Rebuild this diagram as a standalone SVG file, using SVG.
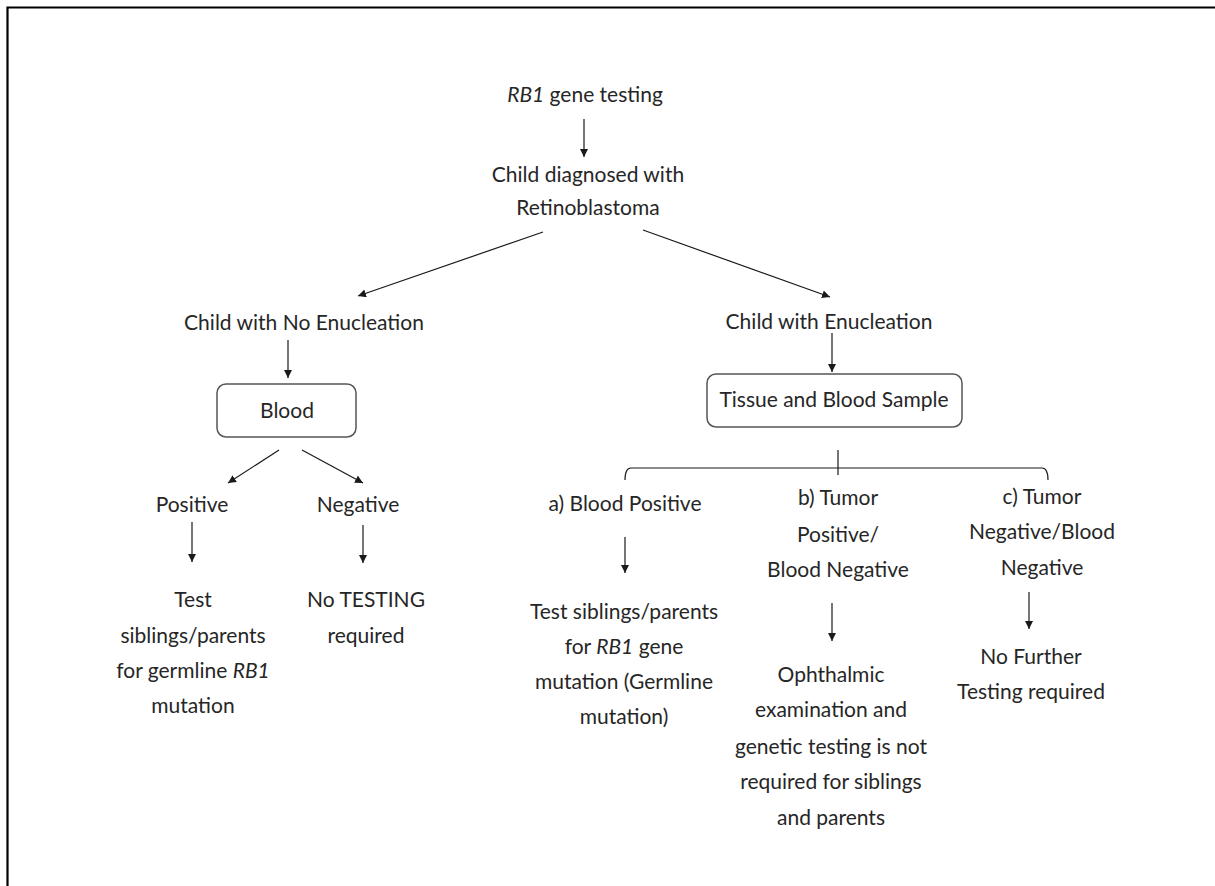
<svg xmlns="http://www.w3.org/2000/svg" width="1215" height="886" viewBox="0 0 1215 886">
<style>
  text { font-family: Lato, "Open Sans", "Liberation Sans", sans-serif; font-size: 21px; fill: #262626; text-anchor: middle; }
  .it { font-style: italic; }
  .box { fill: #ffffff; stroke: #555555; stroke-width: 1.5; }
  .con { stroke: #1a1a1a; stroke-width: 1.2; fill: none; }
  .arr { marker-end: url(#ah); }
  .frame { stroke: #000000; stroke-width: 2.2; fill: none; }
</style>
<defs>
  <marker id="ah" markerUnits="userSpaceOnUse" markerWidth="8" markerHeight="8" refX="8" refY="4" orient="auto">
    <path d="M0,0 L8,4 L0,8 z" fill="#1a1a1a"/>
  </marker>
</defs>
<rect width="1215" height="886" fill="#ffffff"/>
<path class="frame" d="M7.5,886 L7.5,7.5 L1215,7.5"/>

<g id="n-rb1"><text x="585" y="102"><tspan class="it">RB1</tspan> gene testing</text></g>
<g id="n-diag"><text x="588" y="182">Child diagnosed with</text><text x="588" y="215">Retinoblastoma</text></g>
<g id="n-noenuc"><text x="304" y="330">Child with No Enucleation</text></g>
<g id="n-enuc"><text x="829" y="329">Child with Enucleation</text></g>
<g id="n-blood"><rect class="box" x="217" y="384" width="139" height="53" rx="9"/><text x="287" y="418">Blood</text></g>
<g id="n-tissue"><rect class="box" x="707" y="374" width="255" height="53" rx="9"/><text x="834" y="407">Tissue and Blood Sample</text></g>
<g id="n-pos"><text x="192" y="512">Positive</text></g>
<g id="n-neg"><text x="358" y="512">Negative</text></g>
<g id="n-pos-res">
  <text x="193" y="607">Test</text>
  <text x="193" y="643">siblings/parents</text>
  <text x="193" y="678">for germline <tspan class="it">RB1</tspan></text>
  <text x="193" y="713">mutation</text>
</g>
<g id="n-neg-res"><text x="366" y="607">No TESTING</text><text x="366" y="643">required</text></g>
<g id="n-a"><text x="625" y="511">a) Blood Positive</text></g>
<g id="n-b"><text x="838" y="505">b) Tumor</text><text x="838" y="542">Positive/</text><text x="838" y="577">Blood Negative</text></g>
<g id="n-c"><text x="1042" y="504">c) Tumor</text><text x="1042" y="539">Negative/Blood</text><text x="1042" y="575">Negative</text></g>
<g id="n-a-res">
  <text x="624" y="619">Test siblings/parents</text>
  <text x="624" y="654">for <tspan class="it">RB1</tspan> gene</text>
  <text x="624" y="689">mutation (Germline</text>
  <text x="624" y="724">mutation)</text>
</g>
<g id="n-b-res">
  <text x="831" y="682">Ophthalmic</text>
  <text x="831" y="717">examination and</text>
  <text x="831" y="754">genetic testing is not</text>
  <text x="831" y="789">required for siblings</text>
  <text x="831" y="825">and parents</text>
</g>
<g id="n-c-res"><text x="1031" y="664">No Further</text><text x="1031" y="699">Testing required</text></g>

<g id="connectors">
  <line class="con arr" x1="584" y1="119" x2="584" y2="157"/>
  <line class="con arr" x1="543" y1="232" x2="358" y2="296"/>
  <line class="con arr" x1="643" y1="230" x2="830" y2="297"/>
  <line class="con arr" x1="288" y1="340" x2="288" y2="378"/>
  <line class="con arr" x1="832" y1="333" x2="832" y2="372"/>
  <line class="con arr" x1="279" y1="450" x2="228" y2="483"/>
  <line class="con arr" x1="302" y1="450" x2="363" y2="483"/>
  <line class="con arr" x1="192" y1="522" x2="192" y2="562"/>
  <line class="con arr" x1="363" y1="525" x2="363" y2="563"/>
  <line class="con arr" x1="625" y1="537" x2="625" y2="573"/>
  <line class="con arr" x1="832" y1="603" x2="832" y2="641"/>
  <line class="con arr" x1="1029" y1="592" x2="1029" y2="629"/>
  <path class="con" d="M625,480 Q625,468 631,468 L1042,468 Q1048,468 1048,480 M838,450 L838,475"/>
</g>
</svg>
